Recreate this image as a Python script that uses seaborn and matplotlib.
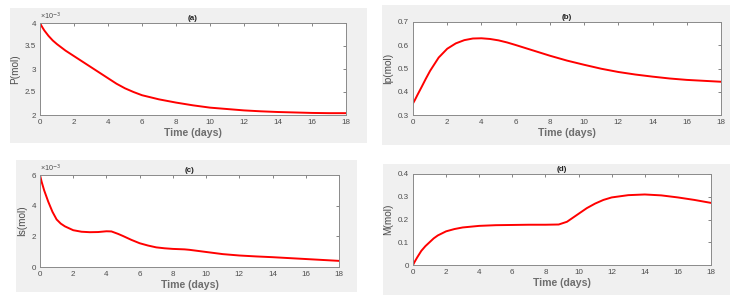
import matplotlib
matplotlib.use("Agg")
import matplotlib.pyplot as plt
import seaborn as sns
import pandas as pd
from matplotlib.patches import Rectangle

sns.set_theme(style="white")
plt.rcParams['font.family'] = ['Liberation Sans', 'DejaVu Sans']

# ---- data ----
t_a = [0, 0.1, 0.25, 0.5, 0.75, 1, 1.5, 2, 2.5, 3, 3.5, 4, 4.5, 5, 5.5, 6, 7, 8, 9, 10, 11, 12, 13, 14, 15, 16, 17, 18]
P = [4.00, 3.93, 3.84, 3.72, 3.62, 3.54, 3.40, 3.28, 3.16, 3.04, 2.92, 2.80, 2.68, 2.58, 2.50, 2.43, 2.34, 2.27, 2.21, 2.16, 2.13, 2.10, 2.08, 2.065, 2.055, 2.045, 2.04, 2.04]

t_b = [0, 0.1, 0.25, 0.5, 0.75, 1, 1.5, 2, 2.5, 3, 3.5, 4, 4.5, 5, 5.5, 6, 7, 8, 9, 10, 11, 12, 13, 14, 15, 16, 17, 18]
Ip = [0.35, 0.363, 0.385, 0.42, 0.456, 0.49, 0.547, 0.585, 0.608, 0.622, 0.629, 0.630, 0.627, 0.621, 0.612, 0.601, 0.578, 0.555, 0.534, 0.516, 0.499, 0.485, 0.474, 0.465, 0.457, 0.451, 0.447, 0.443]

t_c = [0, 0.1, 0.25, 0.5, 0.75, 1, 1.25, 1.5, 2, 2.5, 3, 3.5, 4, 4.3, 4.7, 5, 5.5, 6, 6.5, 7, 7.5, 8, 8.7, 9, 10, 11, 12, 13, 14, 15, 16, 17, 18]
Is = [6.0, 5.55, 5.0, 4.25, 3.6, 3.1, 2.83, 2.65, 2.4, 2.3, 2.27, 2.28, 2.33, 2.32, 2.16, 2.02, 1.77, 1.55, 1.40, 1.28, 1.22, 1.18, 1.15, 1.12, 0.98, 0.84, 0.75, 0.69, 0.64, 0.58, 0.52, 0.46, 0.40]

t_d = [0, 0.1, 0.25, 0.5, 0.75, 1, 1.25, 1.5, 2, 2.5, 3, 4, 5, 6, 7, 8, 8.8, 9.3, 10, 10.5, 11, 11.5, 12, 13, 14, 15, 16, 17, 18]
M = [0.0, 0.014, 0.033, 0.062, 0.083, 0.10, 0.117, 0.13, 0.148, 0.158, 0.165, 0.172, 0.175, 0.176, 0.177, 0.177, 0.178, 0.19, 0.225, 0.25, 0.27, 0.286, 0.297, 0.307, 0.31, 0.306, 0.297, 0.286, 0.273]

titles = ["(a)", "(b)", "(c)", "(d)"]
ylabels = ["P(mol)", "Ip(mol)", "Is(mol)", "M(mol)"]
yticks_list = [[2, 2.5, 3, 3.5, 4], [0.3, 0.4, 0.5, 0.6, 0.7], [0, 2, 4, 6], [0, 0.1, 0.2, 0.3, 0.4]]
ytick_labels = [["2", "2.5", "3", "3.5", "4"], ["0.3", "0.4", "0.5", "0.6", "0.7"],
                ["0", "2", "4", "6"], ["0", "0.1", "0.2", "0.3", "0.4"]]
xticks = [0, 2, 4, 6, 8, 10, 12, 14, 16, 18]
xlabel = "Time (days)"

W, H = 738, 304
fig = plt.figure(figsize=(W / 100, H / 100), dpi=100)
fig.patch.set_facecolor("white")

# background axes for the grey panels
bg = fig.add_axes([0, 0, 1, 1], zorder=-10)
bg.set_xlim(0, W)
bg.set_ylim(H, 0)
bg.axis("off")

# pixel boxes: (x0, ytop, x1, ybottom)
gray_boxes = [(10, 8, 367, 143), (382, 5, 730, 145), (16, 160, 357, 292), (383, 164, 730, 295)]
ax_boxes = [(40, 23, 346, 115), (413, 22, 721, 115), (40, 175, 339, 267), (413, 174, 711, 265)]

for (x0, y0, x1, y1) in gray_boxes:
    bg.add_patch(Rectangle((x0, y0), x1 - x0, y1 - y0, facecolor="#f0f0f0", edgecolor="none"))

series = [(t_a, P, 1e-3), (t_b, Ip, 1), (t_c, Is, 1e-3), (t_d, M, 1)]
grey = "#4d4d4d"
for i, ((tt, vv, sc), (x0, y0, x1, y1)) in enumerate(zip(series, ax_boxes)):
    ax = fig.add_axes([x0 / W, 1 - y1 / H, (x1 - x0) / W, (y1 - y0) / H], zorder=1)
    ax.set_facecolor("white")
    df = pd.DataFrame({"t": tt, "v": vv})
    sns.lineplot(data=df, x="t", y="v", ax=ax, color="#ff0000", linewidth=1.4)
    ax.set_xlim(0, 18)
    yt = yticks_list[i]
    ax.set_ylim(yt[0], yt[-1])
    ax.set_xticks(xticks)
    ax.set_xticklabels([str(x) for x in xticks])
    ax.set_yticks(yt)
    ax.set_yticklabels(ytick_labels[i])
    ax.tick_params(direction="in", length=2.5, width=0.6, colors="#707070",
                   labelcolor=grey, labelsize=5.8, top=True, right=True, pad=3)
    for s in ax.spines.values():
        s.set_color("#8a8a8a")
        s.set_linewidth(0.7)
    ax.set_xlabel(xlabel, fontsize=7.6, color="#6e6e6e", fontweight="bold", labelpad=1.5)
    ax.set_ylabel(ylabels[i], fontsize=7.2, color=grey, labelpad=3)
    ax.set_title(titles[i], fontsize=5.8, fontweight="bold", color="#222222", pad=2)
    if sc != 1:
        ax.text(0.0, 1.01, "×10$^{-3}$", transform=ax.transAxes, fontsize=5.2,
                color=grey, ha="left", va="bottom")

fig.savefig("out.png", dpi=100, facecolor="white")
